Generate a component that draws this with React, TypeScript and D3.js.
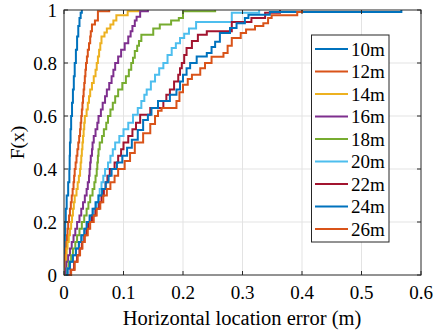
import React from "react";
import * as d3 from "d3";

const names = ["10m", "12m", "14m", "16m", "18m", "20m", "22m", "24m", "26m"];
const colors = ["#0072BD", "#D95319", "#EDB120", "#7E2F8E", "#77AC30", "#4DBEEE", "#A2142F", "#0072BD", "#D95319"];

const xTicks = [0, 0.1, 0.2, 0.3, 0.4, 0.5, 0.6];
const xTickLabels = ["0", "0.1", "0.2", "0.3", "0.4", "0.5", "0.6"];
const yTicks = [0, 0.2, 0.4, 0.6, 0.8, 1];
const yTickLabels = ["0", "0.2", "0.4", "0.6", "0.8", "1"];

// [error (m), F(x)] breakpoints
const s10: [number, number][] = [[0,0],[0.0005,0.05],[0.001,0.1],[0.0015,0.15],[0.002,0.2],[0.003,0.25],[0.0045,0.3],[0.007,0.35],[0.009,0.4],[0.0095,0.45],[0.010,0.5],[0.011,0.55],[0.012,0.6],[0.0135,0.65],[0.015,0.7],[0.0165,0.75],[0.018,0.8],[0.020,0.85],[0.022,0.9],[0.024,0.94],[0.026,0.97],[0.028,0.99],[0.030,1]];
const s12: [number, number][] = [[0,0],[0.0005,0.025],[0.001,0.05],[0.002,0.075],[0.003,0.1],[0.004,0.125],[0.005,0.15],[0.006,0.175],[0.007,0.2],[0.0085,0.225],[0.010,0.25],[0.0115,0.275],[0.013,0.3],[0.0145,0.325],[0.016,0.35],[0.017,0.375],[0.018,0.4],[0.0195,0.425],[0.021,0.45],[0.0225,0.475],[0.024,0.5],[0.0255,0.525],[0.027,0.55],[0.028,0.575],[0.029,0.6],[0.030,0.625],[0.031,0.65],[0.032,0.675],[0.033,0.7],[0.034,0.725],[0.035,0.75],[0.036,0.775],[0.037,0.8],[0.0385,0.825],[0.040,0.85],[0.042,0.875],[0.044,0.9],[0.045,0.92],[0.047,0.945],[0.052,0.96],[0.057,0.995],[0.076,1]];
const s14: [number, number][] = [[0.001,0],[0.002,0.025],[0.003,0.05],[0.004,0.075],[0.0045,0.1],[0.006,0.125],[0.008,0.15],[0.010,0.175],[0.012,0.2],[0.0135,0.225],[0.015,0.25],[0.0165,0.275],[0.018,0.3],[0.021,0.325],[0.023,0.35],[0.025,0.375],[0.027,0.4],[0.028,0.425],[0.029,0.45],[0.030,0.475],[0.031,0.5],[0.032,0.525],[0.033,0.55],[0.034,0.575],[0.035,0.6],[0.038,0.625],[0.040,0.65],[0.042,0.675],[0.044,0.7],[0.047,0.725],[0.050,0.75],[0.053,0.775],[0.055,0.8],[0.057,0.825],[0.059,0.85],[0.061,0.875],[0.063,0.9],[0.068,0.915],[0.072,0.93],[0.078,0.945],[0.083,0.96],[0.088,0.98],[0.107,0.995],[0.125,1]];
const s16: [number, number][] = [[0.002,0],[0.003,0.025],[0.004,0.05],[0.007,0.075],[0.010,0.1],[0.013,0.125],[0.016,0.15],[0.019,0.175],[0.022,0.2],[0.026,0.225],[0.029,0.25],[0.032,0.275],[0.035,0.3],[0.038,0.325],[0.040,0.35],[0.042,0.375],[0.043,0.4],[0.044,0.425],[0.045,0.45],[0.047,0.475],[0.048,0.5],[0.050,0.525],[0.053,0.55],[0.056,0.575],[0.058,0.6],[0.062,0.625],[0.065,0.65],[0.069,0.675],[0.072,0.7],[0.076,0.725],[0.080,0.75],[0.083,0.775],[0.086,0.8],[0.091,0.825],[0.096,0.85],[0.102,0.875],[0.108,0.9],[0.112,0.92],[0.115,0.94],[0.119,0.96],[0.122,0.975],[0.128,0.995],[0.141,1]];
const s18: [number, number][] = [[0.003,0],[0.005,0.025],[0.008,0.05],[0.012,0.075],[0.015,0.1],[0.019,0.125],[0.022,0.15],[0.026,0.175],[0.030,0.2],[0.034,0.225],[0.038,0.25],[0.041,0.275],[0.044,0.3],[0.048,0.325],[0.051,0.35],[0.053,0.375],[0.055,0.4],[0.056,0.425],[0.057,0.45],[0.058,0.475],[0.060,0.5],[0.064,0.525],[0.067,0.55],[0.071,0.575],[0.074,0.6],[0.078,0.625],[0.082,0.65],[0.086,0.675],[0.091,0.7],[0.098,0.725],[0.104,0.75],[0.109,0.775],[0.113,0.8],[0.116,0.82],[0.119,0.845],[0.123,0.865],[0.126,0.883],[0.130,0.907],[0.150,0.93],[0.161,0.945],[0.180,0.96],[0.193,0.97],[0.200,0.995],[0.254,1]];
const s20: [number, number][] = [[0.002,0],[0.006,0.025],[0.010,0.05],[0.015,0.075],[0.020,0.1],[0.025,0.125],[0.030,0.15],[0.035,0.175],[0.039,0.2],[0.045,0.225],[0.050,0.25],[0.055,0.275],[0.058,0.3],[0.060,0.325],[0.063,0.35],[0.066,0.375],[0.069,0.4],[0.074,0.425],[0.078,0.45],[0.082,0.475],[0.086,0.5],[0.093,0.525],[0.100,0.55],[0.108,0.575],[0.116,0.605],[0.124,0.63],[0.130,0.657],[0.135,0.68],[0.139,0.7],[0.146,0.73],[0.153,0.756],[0.160,0.78],[0.167,0.8],[0.174,0.83],[0.181,0.857],[0.188,0.875],[0.195,0.894],[0.202,0.91],[0.210,0.93],[0.222,0.955],[0.282,0.99],[0.328,1]];
const s22: [number, number][] = [[0.005,0],[0.011,0.02],[0.017,0.05],[0.022,0.075],[0.026,0.1],[0.030,0.125],[0.034,0.15],[0.038,0.175],[0.041,0.2],[0.047,0.225],[0.053,0.25],[0.059,0.275],[0.063,0.3],[0.067,0.325],[0.070,0.35],[0.073,0.375],[0.077,0.4],[0.085,0.425],[0.091,0.45],[0.096,0.475],[0.100,0.5],[0.108,0.525],[0.115,0.55],[0.121,0.575],[0.128,0.605],[0.145,0.63],[0.167,0.657],[0.172,0.68],[0.178,0.7],[0.185,0.73],[0.192,0.756],[0.195,0.78],[0.198,0.8],[0.202,0.83],[0.206,0.857],[0.215,0.883],[0.225,0.907],[0.240,0.92],[0.282,0.955],[0.315,0.97],[0.338,0.99],[0.363,1]];
const s24: [number, number][] = [[0.003,0],[0.006,0.025],[0.010,0.05],[0.015,0.075],[0.020,0.1],[0.025,0.125],[0.029,0.15],[0.034,0.175],[0.038,0.2],[0.043,0.225],[0.048,0.25],[0.053,0.275],[0.058,0.3],[0.064,0.325],[0.070,0.35],[0.075,0.375],[0.080,0.4],[0.089,0.425],[0.098,0.45],[0.106,0.48],[0.114,0.51],[0.124,0.547],[0.133,0.585],[0.141,0.605],[0.147,0.63],[0.158,0.657],[0.178,0.68],[0.189,0.7],[0.195,0.73],[0.200,0.756],[0.206,0.78],[0.212,0.8],[0.223,0.825],[0.240,0.838],[0.248,0.86],[0.254,0.88],[0.262,0.913],[0.279,0.932],[0.290,0.95],[0.304,0.97],[0.310,0.982],[0.346,0.992],[0.567,1]];
const s26: [number, number][] = [[0.008,0],[0.012,0.02],[0.018,0.05],[0.023,0.075],[0.027,0.1],[0.031,0.125],[0.035,0.15],[0.040,0.175],[0.044,0.2],[0.050,0.225],[0.055,0.25],[0.061,0.275],[0.066,0.3],[0.072,0.325],[0.078,0.35],[0.085,0.375],[0.091,0.4],[0.102,0.43],[0.111,0.46],[0.119,0.5],[0.133,0.535],[0.145,0.57],[0.153,0.6],[0.158,0.62],[0.164,0.63],[0.189,0.657],[0.194,0.69],[0.200,0.718],[0.208,0.74],[0.215,0.756],[0.229,0.78],[0.237,0.8],[0.248,0.824],[0.268,0.838],[0.275,0.865],[0.282,0.894],[0.297,0.913],[0.306,0.926],[0.321,0.94],[0.335,0.95],[0.343,0.97],[0.349,0.98],[0.392,0.992],[0.400,1]];

const series = [s10, s12, s14, s16, s18, s20, s22, s24, s26];

const W = 433, H = 334;
const L = 64, R = 421, T = 10, B = 275;
const FONT = "Liberation Serif, DejaVu Serif, Times New Roman, serif";
const AX = "#262626";
const tstyle = { fontFamily: FONT };

export default function App() {
  const x = d3.scaleLinear().domain([0, 0.6]).range([L, R]);
  const y = d3.scaleLinear().domain([0, 1]).range([B, T]);
  const line = d3.line<[number, number]>().x(d => x(d[0])).y(d => y(d[1])).curve(d3.curveStepAfter);
  const tl = 4;
  const lgX = 311.5, lgY = 35, lgW = 77.5, lgH = 207;
  return (
    <svg width={W} height={H} style={{ position: "absolute", left: 0, top: 0, background: "#fff" }}>
      <defs>
        <clipPath id="plot"><rect x={L} y={T - 1} width={R - L} height={B - T + 2} /></clipPath>
      </defs>
      <rect x={0} y={0} width={W} height={H} fill="#fff" />
      {xTicks.slice(1, -1).map(t => (
        <line key={"gx" + t} x1={x(t)} x2={x(t)} y1={T} y2={B} stroke="#e3e3e3" strokeWidth={1} />
      ))}
      {yTicks.slice(1, -1).map(t => (
        <line key={"gy" + t} x1={L} x2={R} y1={y(t)} y2={y(t)} stroke="#e3e3e3" strokeWidth={1} />
      ))}
      <g clipPath="url(#plot)">
        {series.map((s, i) => (
          <path key={names[i]} d={line(s) || ""} fill="none" stroke={colors[i]} strokeWidth={2} strokeLinejoin="miter" />
        ))}
      </g>
      <rect x={L} y={T} width={R - L} height={B - T} fill="none" stroke={AX} strokeWidth={1} />
      {xTicks.map(t => (
        <g key={"tx" + t}>
          <line x1={x(t)} x2={x(t)} y1={B} y2={B - tl} stroke={AX} />
          <line x1={x(t)} x2={x(t)} y1={T} y2={T + tl} stroke={AX} />
        </g>
      ))}
      {yTicks.map(t => (
        <g key={"ty" + t}>
          <line x1={L} x2={L + tl} y1={y(t)} y2={y(t)} stroke={AX} />
          <line x1={R} x2={R - tl} y1={y(t)} y2={y(t)} stroke={AX} />
        </g>
      ))}
      {xTicks.map((t, i) => (
        <text key={"lx" + t} x={x(t)} y={299} textAnchor="middle" fontSize={19} fill="#000" style={tstyle}>{xTickLabels[i]}</text>
      ))}
      {yTicks.map((t, i) => (
        <text key={"ly" + t} x={57} y={y(t) + 6.5} textAnchor="end" fontSize={19} fill="#000" style={tstyle}>{yTickLabels[i]}</text>
      ))}
      <text x={242} y={325} textAnchor="middle" fontSize={20.5} fill="#000" style={tstyle}>Horizontal location error (m)</text>
      <text transform={`translate(24,${(T + B) / 2}) rotate(-90)`} textAnchor="middle" fontSize={19.5} fill="#000" style={tstyle}>F(x)</text>
      <rect x={lgX} y={lgY} width={lgW} height={lgH} fill="#fff" stroke={AX} strokeWidth={1} />
      {names.map((n, i) => {
        const yy = 49 + i * 22.5;
        return (
          <g key={"lg" + n}>
            <line x1={315} x2={348} y1={yy} y2={yy} stroke={colors[i]} strokeWidth={2} />
            <text x={351} y={yy + 6.5} fontSize={19} fill="#000" style={tstyle}>{n}</text>
          </g>
        );
      })}
    </svg>
  );
}
